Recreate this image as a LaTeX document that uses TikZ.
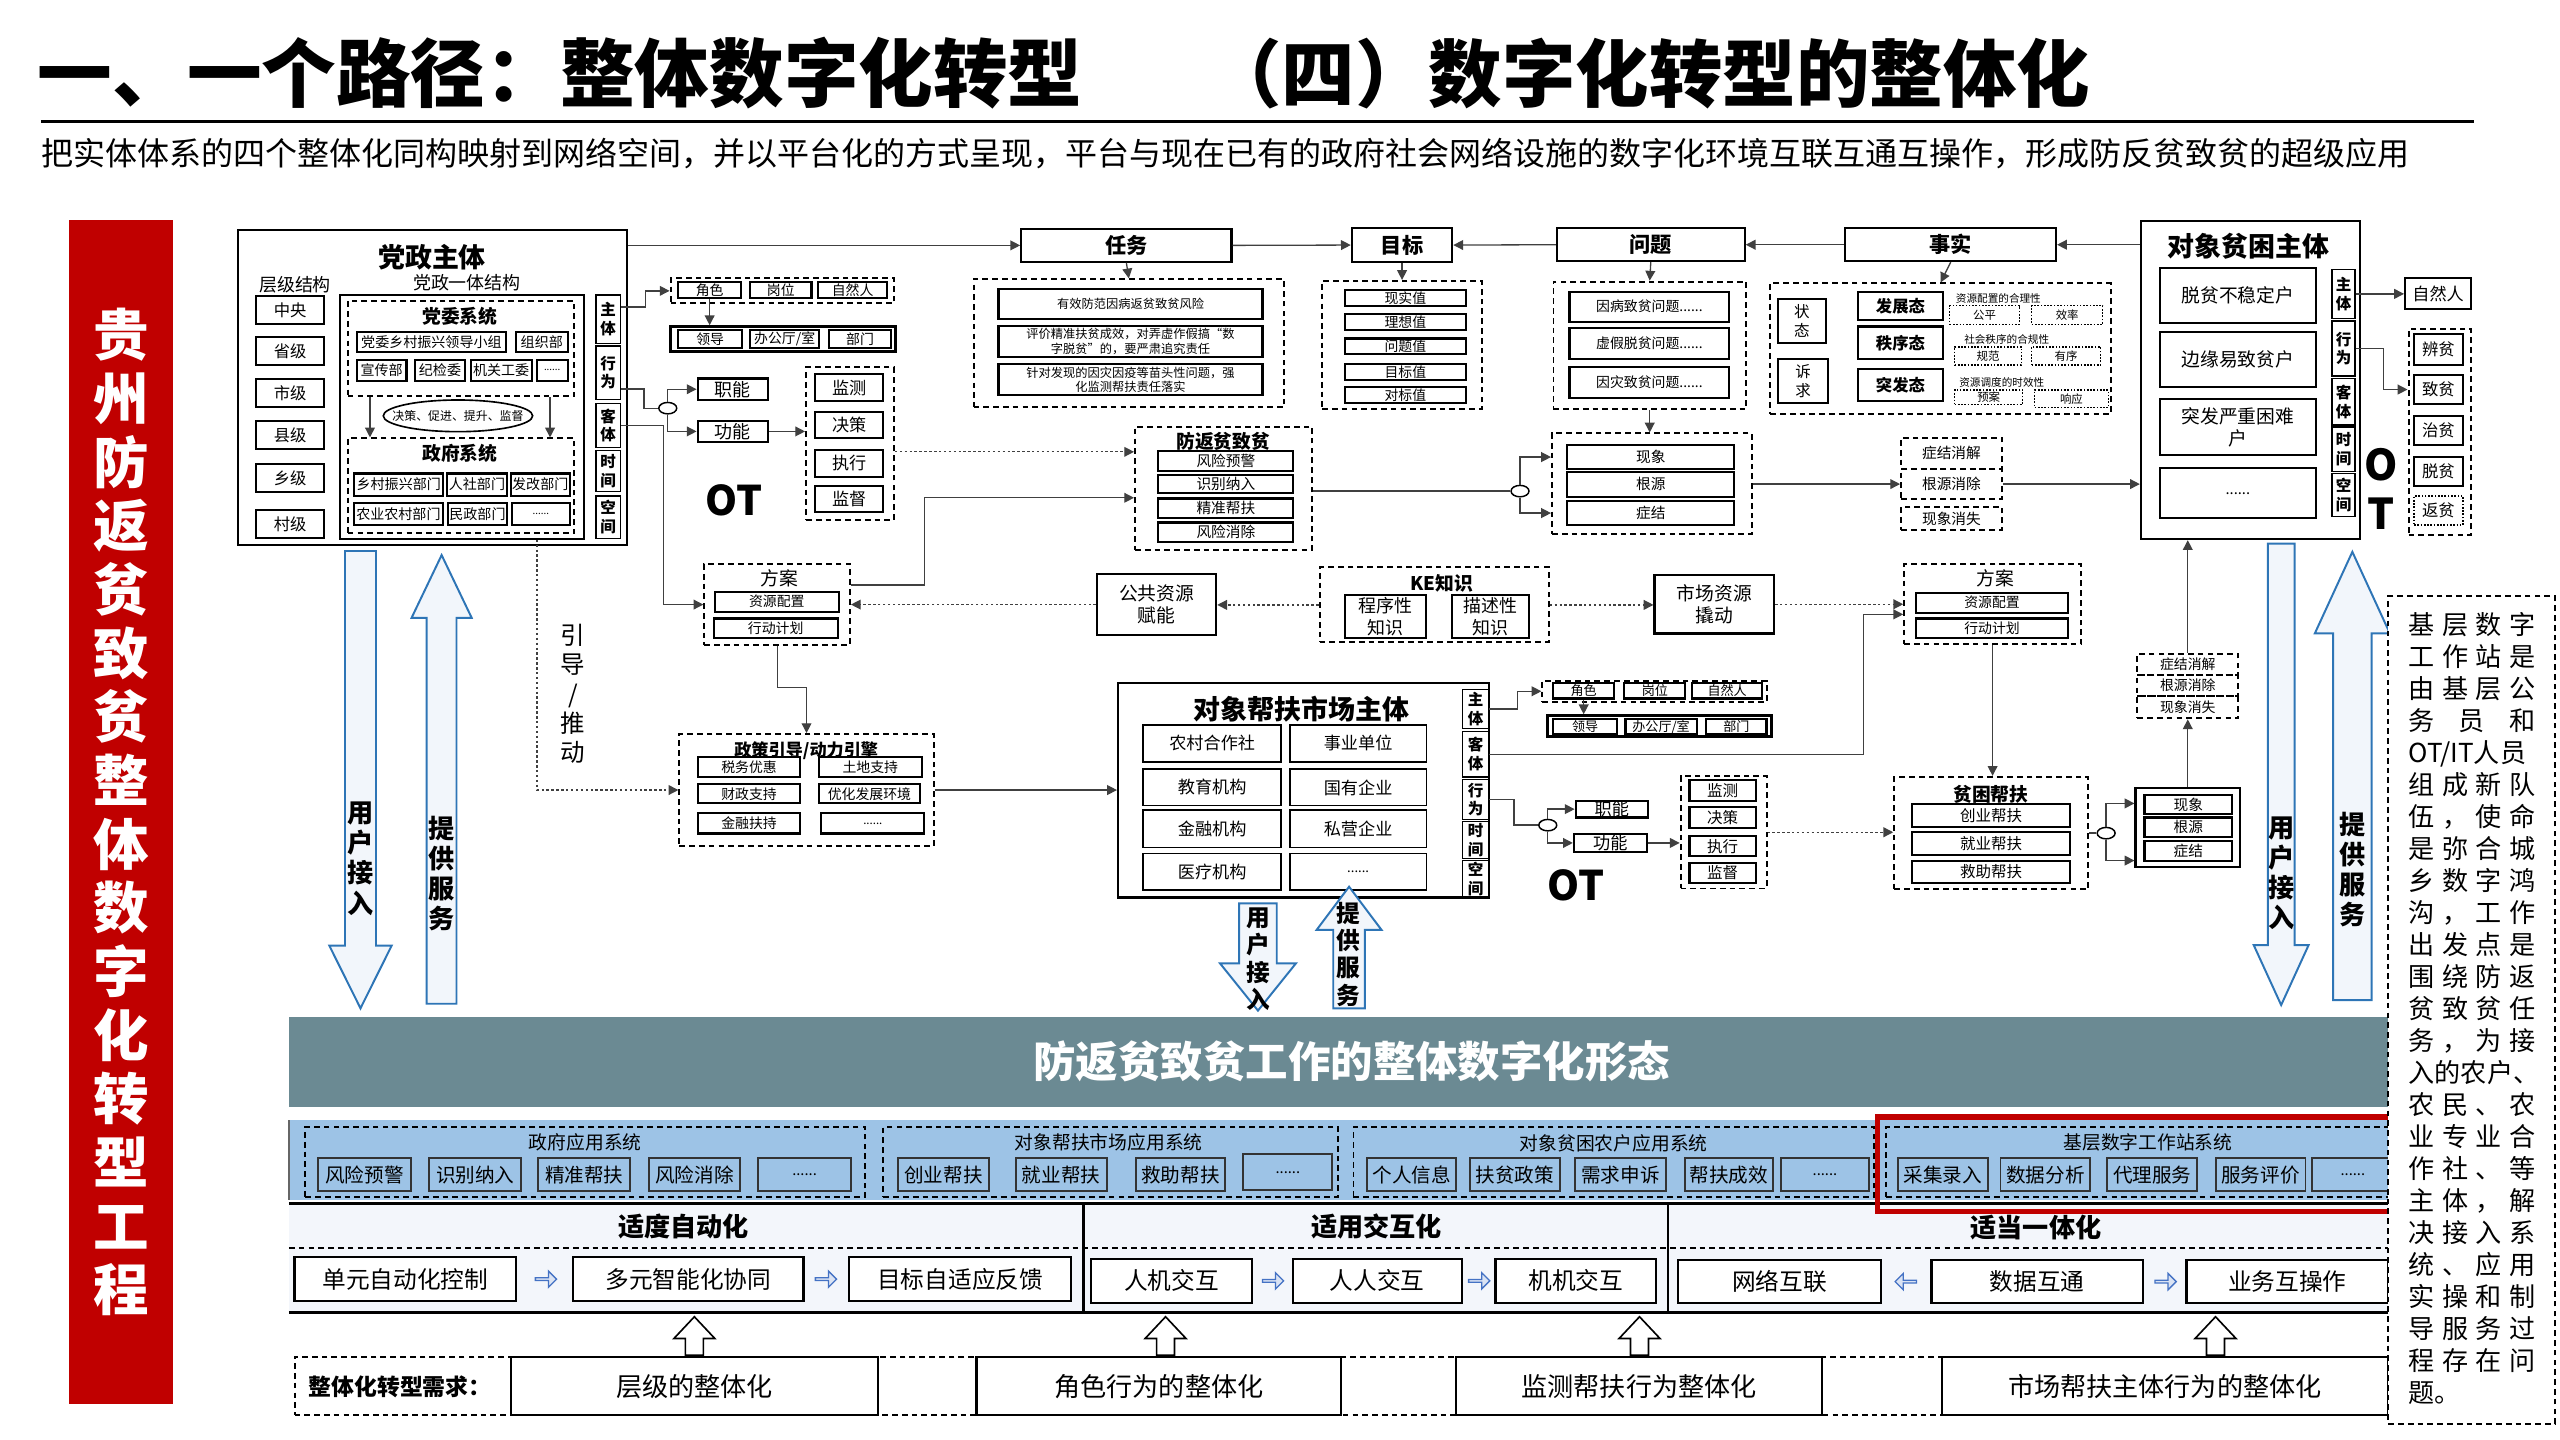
\documentclass[tikz,border=0pt]{standalone}
\usepackage{fontspec}
\setmainfont{Noto Sans CJK SC}
\usetikzlibrary{arrows.meta,shapes.geometric,shapes.arrows}
\definecolor{myred}{HTML}{C00000}
\definecolor{bannergray}{HTML}{6B8A93}
\definecolor{bandblue}{HTML}{9DC3E6}
\definecolor{secfill}{HTML}{F3F6FB}
\definecolor{arrblue}{HTML}{2E75B6}
\definecolor{arrfill}{HTML}{F2F6FB}
\definecolor{linegray}{HTML}{404040}
\definecolor{smallblue}{HTML}{4472C4}
\definecolor{smallfill}{HTML}{DAE3F3}
\newcommand\bx[7][]{\node[#1,minimum width={#5-#3},minimum height={#6-#4}] (#2) at ({(#3+#5)/2},{(#4+#6)/2}) {#7};}
\newcommand\jl[1]{\makebox[77.6pt][s]{#1}}
\newcommand\jlL[1]{\makebox[77.6pt][l]{#1}}
\newcommand\uparr[1]{\filldraw[fill=white,draw=black,line width=1pt] (#1-5.5,830) -- (#1-5.5,819.8) -- (#1-12.5,819.8) -- (#1,806.5) -- (#1+12.5,819.8) -- (#1+5.5,819.8) -- (#1+5.5,830) -- cycle;}
\tikzset{
  fs/.style={font=\fontsize{#1}{\fpeval{1.2*#1}}\selectfont},
  fb/.style={font=\fontsize{#1}{\fpeval{1.2*#1}}\selectfont\bfseries},
  sb/.style={draw=black,line width=0.9pt,inner sep=0pt,align=center,fill=white},
  tb/.style={draw=black,line width=1.3pt,inner sep=0pt,align=center,fill=white},
  bb/.style={draw=black!80,line width=1.2pt,inner sep=0pt,align=center},
  db/.style={draw=black,line width=1.2pt,dash pattern=on 3.5pt off 2.5pt,inner sep=0pt,align=center},
  dtb/.style={draw=black,line width=0.9pt,dash pattern=on 1pt off 1pt,inner sep=0pt,align=center,fill=white},
  lbl/.style={inner sep=0pt,align=center},
  arr/.style={draw=linegray,line width=0.8pt,-{Triangle[length=6pt,width=6pt]}},
  darr/.style={arr,dash pattern=on 1.5pt off 1.5pt},
  ln/.style={draw=linegray,line width=0.8pt},
  circ/.style={draw=black,line width=0.9pt,ellipse,minimum width=11pt,minimum height=7pt,inner sep=0pt,fill=white},
  bigarr/.style={draw=arrblue,fill=arrfill,line width=1.2pt},
  vtxt/.style={inner sep=0pt,align=center,font=\fontsize{16}{18.4}\selectfont\bfseries},
  vsm/.style={inner sep=0pt,align=center,font=\fontsize{14.5}{16.7}\selectfont\bfseries},
  smarr/.style={single arrow,draw=smallblue,fill=smallfill,line width=0.8pt,minimum height=13pt,minimum width=10pt,single arrow head extend=2pt,inner sep=0pt},
}
\begin{document}
\begin{tikzpicture}[x=1pt,y=-1pt]
\useasboundingbox (0,0) rectangle (1568,882);
% ---------- title ----------
\node[anchor=west,inner sep=0pt,font=\fontsize{45.7}{50}\selectfont\bfseries] (title1) at (23,45) {一、一个路径：整体数字化转型};
\node[anchor=west,inner sep=0pt,font=\fontsize{45}{50}\selectfont\bfseries] (title2) at (740,45) {（四）数字化转型的整体化};
\draw[line width=2pt] (25,74.5) -- (1515,74.5);
\node[anchor=west,inner sep=0pt,fs=19.6] (subtitle) at (25,94) {把实体体系的四个整体化同构映射到网络空间，并以平台化的方式呈现，平台与现在已有的政府社会网络设施的数字化环境互联互通互操作，形成防反贫致贫的超级应用};
% ---------- red bar ----------
\node[fill=myred,minimum width=64,minimum height=725,inner sep=0pt,text=white,align=center,font=\fontsize{34}{39}\selectfont\bfseries] (redbar) at (74,497.5) {贵\\州\\防\\返\\贫\\致\\贫\\整\\体\\数\\字\\化\\转\\型\\工\\程};
% ---------- bottom backgrounds ----------
\fill[bannergray] (177,623) rectangle (1468,678);
\node[lbl,fb=26,text=white] (banner) at (828,650) {防返贫致贫工作的整体数字化形态};
\fill[bandblue] (177,686) rectangle (1468,735);
\draw[line width=1.5pt,black!60] (177,686) -- (177,735);
\fill[secfill] (177,737) rectangle (1462.6,804);
\draw[line width=2pt] (177,737) -- (1462.6,737);
\draw[line width=2pt] (177,804) -- (1462.6,804);
\draw[line width=1.5pt] (663.6,737) -- (663.6,804);
\draw[line width=1.5pt] (1021.5,737) -- (1021.5,804);
\draw[db] (177,764.6) -- (1462.6,764.6);
% ---------- 党政主体 ----------
\bx[draw,line width=1.3pt,inner sep=0pt,fill=white]{dz}{146}{141}{384}{334}{}
\node[lbl,fb=16.5] (dzt) at (264.6,157.5) {党政主体};
\node[lbl,fs=11] (cjjg) at (180.7,174.6) {层级结构};
\node[lbl,fs=11] (dzytl) at (286,173) {党政一体结构};
\bx[tb,fs=10]{lv1}{157}{181.5}{198.5}{198.5}{中央}
\bx[tb,fs=10]{lv2}{157}{206.5}{198.5}{223.5}{省级}
\bx[tb,fs=10]{lv3}{157}{232.2}{198.5}{249.2}{市级}
\bx[tb,fs=10]{lv4}{157}{257.9}{198.5}{274.9}{县级}
\bx[tb,fs=10]{lv5}{157}{284.4}{198.5}{301.4}{乡级}
\bx[tb,fs=10]{lv6}{157}{312.5}{198.5}{329.5}{村级}
\bx[draw,line width=1.2pt,inner sep=0pt]{dzyt}{208.3}{180.7}{357.7}{330}{}
\bx[db]{dw}{213}{184.4}{351.8}{242.6}{}
\node[lbl,fb=11.5] (dwt) at (281.7,193.5) {党委系统};
\bx[tb,fs=8.6]{dw1}{218.5}{203.5}{310}{215.8}{党委乡村振兴领导小组}
\bx[tb,fs=8.6]{dw2}{316}{203.5}{347.7}{215.8}{组织部}
\bx[tb,fs=8.6]{dw3}{218.5}{220.5}{249}{233.2}{宣传部}
\bx[tb,fs=8.6]{dw4}{254}{220.5}{285}{233.2}{纪检委}
\bx[tb,fs=8.6]{dw5}{288.3}{220.5}{325.6}{233.2}{机关工委}
\bx[tb,fs=6]{dw6}{328.7}{220.5}{347.7}{233.2}{......}
\node[draw,ellipse,line width=1pt,minimum width=91.5,minimum height=19.4,inner sep=0pt] (jcel) at (280.5,254.7) {};
\node[lbl,fs=7.3] (jcelt) at (jcel) {决策、促进、提升、监督};
\bx[db]{zf}{213}{268.5}{351.8}{326.6}{}
\node[lbl,fb=11.5] (zft) at (281.7,277.5) {政府系统};
\bx[tb,fs=8.6]{zf1}{217}{290}{271.5}{303.6}{乡村振兴部门}
\bx[tb,fs=8.6]{zf2}{274}{290}{310.3}{303.6}{人社部门}
\bx[tb,fs=8.6]{zf3}{312.8}{290}{349}{303.6}{发改部门}
\bx[tb,fs=8.6]{zf4}{216.6}{308.3}{271.5}{321.6}{农业农村部门}
\bx[tb,fs=8.6]{zf5}{274.6}{308.3}{310.3}{321.6}{民政部门}
\bx[tb,fs=6]{zf6}{313.6}{308.3}{349}{321.6}{......}
\draw[arr] (226.6,0 |- dw.south) -- (226.6,0 |- zf.north);
\draw[arr] (336.9,0 |- dw.south) -- (336.9,0 |- zf.north);
\bx[sb,fb=9.5]{zt1}{365}{180.7}{380}{210.3}{主\\体}
\bx[sb,fb=9.5]{zt2}{365}{212}{380}{244.6}{行\\为}
\bx[sb,fb=9.5]{zt3}{365}{247}{380}{274}{客\\体}
\bx[sb,fb=9.5]{zt4}{365}{276}{380}{301}{时\\间}
\bx[sb,fb=9.5]{zt5}{365}{303.8}{380}{329.7}{空\\间}
% ---------- top-left OT ----------
\bx[db]{js1}{410.7}{170.5}{547.5}{185.8}{}
\bx[tb,fs=8.5]{js1a}{415.4}{172.5}{453.9}{182.7}{角色}
\bx[tb,fs=8.5]{js1b}{459.5}{172.5}{497}{182.7}{岗位}
\bx[tb,fs=8.5]{js1c}{501}{172.5}{543.5}{182.7}{自然人}
\bx[draw,line width=1.8pt,inner sep=0pt,fill=white]{ld1}{410.7}{200.1}{548.2}{215.4}{}
\bx[tb,fs=8.5]{ld1a}{415.4}{202.1}{454.5}{213.4}{领导}
\bx[tb,fs=8.5]{ld1b}{459.5}{202.1}{501.7}{213.4}{办公厅/室}
\bx[tb,fs=8.5]{ld1c}{507.7}{202.1}{545.8}{213.4}{部门}
\node[circ] (c1) at (409,250) {};
\bx[tb,fs=11]{zn1}{427.3}{231.8}{470.5}{245}{职能}
\bx[tb,fs=11]{gn1}{427.3}{257.9}{470.5}{270.6}{功能}
\bx[db]{jc1}{493.7}{225}{547.5}{318.5}{}
\bx[tb,fs=10.5]{jc1a}{499.4}{229.3}{540.9}{245.4}{监测}
\bx[tb,fs=10.5]{jc1b}{499.4}{252.2}{540.9}{268.5}{决策}
\bx[tb,fs=10.5]{jc1c}{499.4}{275.7}{540.9}{292}{执行}
\bx[tb,fs=10.5]{jc1d}{499.4}{297.5}{540.9}{313.4}{监督}
\node[lbl,fb=25] (ot1) at (449.6,306.3) {OT};
% ---------- top row ----------
\bx[tb,fb=13]{rw}{625.5}{140.3}{754.3}{160.3}{任务}
\bx[tb,fb=13]{mb}{828}{139.9}{889.5}{160.3}{目标}
\bx[tb,fb=13]{wt}{953.6}{139.9}{1068.6}{159.9}{问题}
\bx[tb,fb=13]{ss}{1130.3}{139.9}{1259.3}{159.9}{事实}
\bx[db]{rwd}{596.3}{171.1}{786.5}{249.5}{}
\bx[tb,fs=7.5]{rwd1}{611.6}{177}{773.3}{195.6}{有效防范因病返贫致贫风险}
\bx[tb,fs=7.5]{rwd2}{611.6}{199.7}{773.3}{218.5}{评价精准扶贫成效，对弄虚作假搞“数\\字脱贫”的，要严肃追究责任}
\bx[tb,fs=7.5]{rwd3}{611.6}{223.2}{773.3}{242}{针对发现的因灾因疫等苗头性问题，强\\化监测帮扶责任落实}
\bx[db]{mbd}{809.8}{172.1}{907.7}{250.5}{}
\bx[tb,fs=8.5]{mbd1}{823.7}{177.6}{897.8}{187.4}{现实值}
\bx[tb,fs=8.5]{mbd2}{823.7}{192.3}{897.8}{202.1}{理想值}
\bx[tb,fs=8.5]{mbd3}{823.7}{207.3}{897.8}{217}{问题值}
\bx[tb,fs=8.5]{mbd4}{823.7}{223}{897.8}{232.8}{目标值}
\bx[tb,fs=8.5]{mbd5}{823.7}{236.9}{897.8}{246.7}{对标值}
\bx[db]{wtd}{951.5}{172.5}{1069.4}{250.5}{}
\bx[tb,fs=8.5]{wtd1}{961.3}{178.7}{1059.2}{197}{因病致贫问题......}
\bx[tb,fs=8.5]{wtd2}{961.3}{201.1}{1059.2}{219.9}{虚假脱贫问题......}
\bx[tb,fs=8.5]{wtd3}{961.3}{224.6}{1059.2}{243.6}{因灾致贫问题......}
\bx[db]{ssd}{1084.3}{173.6}{1293}{253.6}{}
\bx[tb,fs=9.5]{ssd1}{1089}{183.2}{1118.4}{210.3}{状\\态}
\bx[tb,fs=9.5]{ssd2}{1089}{219.9}{1119.7}{247.1}{诉\\求}
\bx[tb,fb=10]{ssf1}{1138}{179}{1190}{196}{发展态}
\bx[tb,fb=10]{ssf2}{1138}{200}{1190}{220}{秩序态}
\bx[tb,fb=10]{ssf3}{1138}{226}{1190}{245.6}{突发态}
\node[lbl,fs=6.5] (ssl1) at (1224,182.8) {资源配置的合理性};
\bx[dtb,fs=7]{ssg1}{1194.2}{187.2}{1236.8}{198.7}{公平}
\bx[dtb,fs=7]{ssg2}{1244.4}{187.2}{1287.9}{198.7}{效率}
\node[lbl,fs=6.5] (ssl2) at (1229.1,207.7) {社会秩序的合规性};
\bx[dtb,fs=7]{ssg3}{1197.2}{212.4}{1238.1}{223.6}{规范}
\bx[dtb,fs=7]{ssg4}{1244.4}{212.4}{1286.6}{223.6}{有序}
\node[lbl,fs=6.5] (ssl3) at (1226.1,234.2) {资源调度的时效性};
\bx[dtb,fs=7]{ssg5}{1197.2}{238.9}{1238.9}{247.7}{预案}
\bx[dtb,fs=7]{ssg6}{1246.2}{238.9}{1291.3}{249.7}{响应}
% ---------- 对象贫困主体 ----------
\bx[draw,line width=1.3pt,inner sep=0pt,fill=white]{pk}{1311.3}{135.4}{1445.4}{330.2}{}
\node[lbl,fb=16.5] (pkt) at (1377,151.1) {对象贫困主体};
\bx[tb,fs=11.5]{pk1}{1322.8}{164}{1418.6}{198.1}{脱贫不稳定户}
\bx[tb,fs=11.5]{pk2}{1322.8}{203.2}{1418.6}{236.9}{边缘易致贫户}
\bx[tb,fs=11.5]{pk3}{1322.8}{244.6}{1418.6}{278.7}{突发严重困难\\户}
\bx[tb,fs=9]{pk4}{1322.8}{286.9}{1418.6}{317.5}{......}
\bx[sb,fb=9.5]{pz1}{1428.4}{165}{1442.4}{195}{主\\体}
\bx[sb,fb=9.5]{pz2}{1428.4}{196.6}{1442.4}{230.3}{行\\为}
\bx[sb,fb=9.5]{pz3}{1428.4}{231.8}{1442.4}{260.3}{客\\体}
\bx[sb,fb=9.5]{pz4}{1428.4}{261.4}{1442.4}{288.9}{时\\间}
\bx[sb,fb=9.5]{pz5}{1428.4}{290}{1442.4}{316.5}{空\\间}
\bx[tb,fs=10.5]{zr}{1473.1}{170.5}{1513.6}{189.3}{自然人}
\bx[db]{bp}{1475.2}{201.7}{1513.6}{327.7}{}
\bx[tb,fs=10]{bp1}{1478.6}{204.8}{1508.5}{223.6}{辨贫}
\bx[tb,fs=10]{bp2}{1478.6}{229.7}{1508.5}{247.5}{致贫}
\bx[tb,fs=10]{bp3}{1478.6}{254.8}{1508.5}{272.6}{治贫}
\bx[tb,fs=10]{bp4}{1478.6}{279.7}{1508.5}{297.5}{脱贫}
\bx[dtb,fs=10]{bp5}{1478.6}{303.8}{1508.5}{321.6}{返贫}
\node[lbl,font=\fontsize{26}{29.7}\selectfont\bfseries] (otr) at (1458.2,299.6) {O\\T};
\draw[arr] (pz1.east) -- (pz1.east -| zr.west);
\draw[arr] (pz2.east) -- ++(17,0) |- (bp.west |- bp2.center);
% ---------- 防返贫致贫 ----------
\bx[db]{ff}{695.2}{261.4}{803.8}{337}{}
\node[lbl,fb=11.5] (fft) at (749.3,270.2) {防返贫致贫};
\bx[tb,fs=9]{ff1}{709.5}{276.3}{792.2}{288.5}{风险预警}
\bx[tb,fs=9]{ff2}{709.5}{291}{792.2}{302.2}{识别纳入}
\bx[tb,fs=9]{ff3}{709.5}{305.3}{792.2}{317.1}{精准帮扶}
\bx[tb,fs=9]{ff4}{709.5}{320}{792.2}{331.8}{风险消除}
\node[circ] (c2) at (931,300.8) {};
\bx[db]{xg}{950.6}{265.5}{1072.8}{327.3}{}
\bx[tb,fs=9]{xg1}{960}{272.6}{1062.2}{287.3}{现象}
\bx[tb,fs=9]{xg2}{960}{289}{1062.2}{304.2}{根源}
\bx[tb,fs=9]{xg3}{960}{306.9}{1062.2}{321.6}{症结}
\bx[db,fs=9]{sj1}{1164.4}{268.1}{1226.1}{287.3}{症结消解}
\bx[db,fs=9]{sj2}{1164.4}{287.3}{1226.1}{305.7}{根源消除}
\bx[db,fs=9]{sj3}{1164.4}{310.4}{1226.1}{324.7}{现象消失}
% ---------- 方案 / KE ----------
\bx[db]{faL}{431.4}{345.5}{520.6}{395.1}{}
\node[lbl,fs=11.5] (faLt) at (477.4,354.3) {方案};
\bx[tb,fs=8.5]{faL1}{437.9}{362.4}{513.7}{374.7}{资源配置}
\bx[tb,fs=8.5]{faL2}{437.2}{378.8}{513}{391}{行动计划}
\bx[tb,fs=11.5]{gg}{671.9}{351.6}{744.9}{389}{公共资源\\赋能}
\bx[db]{ke}{808.3}{347.5}{948.6}{393.5}{}
\node[lbl,fb=11.5] (ket) at (883,357.3) {KE知识};
\bx[tb,fs=11]{ke1}{823.6}{364.4}{873.4}{391}{程序性\\知识}
\bx[tb,fs=11]{ke2}{889.2}{364.4}{936.3}{391}{描述性\\知识}
\bx[tb,fs=11.5]{sc}{1013.4}{352.2}{1086.6}{388}{市场资源\\撬动}
\bx[db]{faR}{1166.3}{345.5}{1274.6}{394.7}{}
\node[lbl,fs=11.5] (faRt) at (1222,354.3) {方案};
\bx[tb,fs=8.5]{faR1}{1173.6}{363}{1266.6}{375.3}{资源配置}
\bx[tb,fs=8.5]{faR2}{1173.6}{378.8}{1266.6}{391}{行动计划}
% ---------- 政策引导 ----------
\bx[db]{zc}{416.1}{449.6}{571.9}{518.2}{}
\node[lbl,fb=10.5] (zct) at (493.8,459.5) {政策引导/动力引擎};
\bx[tb,fs=8.5]{zc1}{427.6}{463.9}{490}{475.8}{税务优惠}
\bx[tb,fs=8.5]{zc2}{501.5}{463.9}{564.6}{475.8}{土地支持}
\bx[tb,fs=8.5]{zc3}{427.6}{480.3}{490}{492.1}{财政支持}
\bx[tb,fs=8.5]{zc4}{501.5}{480.3}{563.5}{492.1}{优化发展环境}
\bx[tb,fs=8.5]{zc5}{427.6}{498.2}{490}{510.5}{金融扶持}
\bx[tb,fs=7]{zc6}{503}{498.2}{566.2}{510.5}{......}
\node[lbl,font=\fontsize{15}{18}\selectfont] (yd) at (351,425) {引\\导\\/\\推\\动};
% ---------- 对象帮扶市场主体 ----------
\bx[draw,line width=1.3pt,inner sep=0pt,fill=white]{dx}{684.8}{418.6}{911.8}{549.7}{}
\node[lbl,fb=16.5] (dxt) at (797,434.5) {对象帮扶市场主体};
\bx[sb,fs=10.5]{dxa}{700.2}{444.1}{784.7}{466.6}{农村合作社}
\bx[sb,fs=10.5]{dxb}{790.1}{444.1}{873.6}{466.6}{事业单位}
\bx[sb,fs=10.5]{dxc}{700.2}{471.1}{784.7}{493.5}{教育机构}
\bx[sb,fs=10.5]{dxd}{790.1}{471.1}{873.6}{493.5}{国有企业}
\bx[sb,fs=10.5]{dxe}{700.2}{496.2}{784.7}{519.1}{金融机构}
\bx[sb,fs=10.5]{dxf}{790.1}{496.2}{873.6}{519.1}{私营企业}
\bx[sb,fs=10.5]{dxg}{700.2}{522.7}{784.7}{545.2}{医疗机构}
\bx[sb,fs=8]{dxh}{790.1}{522.7}{873.6}{545.2}{......}
\bx[sb,fb=9.5]{dk1}{895.8}{422.3}{911.8}{446.1}{主\\体}
\bx[sb,fb=9.5]{dk2}{895.8}{448.2}{911.8}{475.8}{客\\体}
\bx[sb,fb=9.5]{dk3}{895.8}{477.4}{911.8}{501.9}{行\\为}
\bx[sb,fb=9.5]{dk4}{895.8}{503.3}{911.8}{525.8}{时\\间}
\bx[sb,fb=9.5]{dk5}{895.8}{527.2}{911.8}{549.3}{空\\间}
\bx[db]{js2}{944.7}{417}{1082}{429.8}{}
\bx[tb,fs=8]{js2a}{951.3}{418.2}{988.7}{427.8}{角色}
\bx[tb,fs=8]{js2b}{994.9}{418.2}{1032.3}{427.8}{岗位}
\bx[tb,fs=8]{js2c}{1036.6}{418.2}{1079.1}{427.8}{自然人}
\bx[draw,line width=1.8pt,inner sep=0pt,fill=white]{ld2}{947.6}{438.4}{1085}{451.3}{}
\bx[tb,fs=8]{ld2a}{951.3}{440.6}{990.5}{449.6}{领导}
\bx[tb,fs=8]{ld2b}{995.6}{440.6}{1039.2}{449.6}{办公厅/室}
\bx[tb,fs=8]{ld2c}{1045}{440.6}{1082}{449.6}{部门}
\node[circ] (c3) at (948,505.4) {};
\bx[tb,fs=10.5]{zn2}{965.1}{490.5}{1009.4}{500.7}{职能}
\bx[tb,fs=10.5]{gn2}{964}{510.9}{1008.7}{521.7}{功能}
\bx[db]{jc2}{1029.4}{475.3}{1082}{544.2}{}
\bx[tb,fs=9.5]{jc2a}{1034.8}{477.8}{1075.5}{490.5}{监测}
\bx[tb,fs=9.5]{jc2b}{1034.8}{494.5}{1075.5}{507.4}{决策}
\bx[tb,fs=9.5]{jc2c}{1034.8}{512.1}{1075.5}{524.4}{执行}
\bx[tb,fs=9.5]{jc2d}{1034.8}{528.4}{1075.5}{540.7}{监督}
\node[lbl,fb=25] (ot2) at (965.1,542.1) {OT};
\bx[db]{pkbf}{1160.2}{475.8}{1279}{544.8}{}
\node[lbl,fb=11.5] (pkbft) at (1219.4,486.3) {贫困帮扶};
\bx[tb,fs=9.5]{pkbf1}{1171.1}{492.5}{1268.1}{506.8}{创业帮扶}
\bx[tb,fs=9.5]{pkbf2}{1171.1}{509.5}{1268.1}{523.7}{就业帮扶}
\bx[tb,fs=9.5]{pkbf3}{1171.1}{527.2}{1268.1}{541.1}{救助帮扶}
\node[circ] (c4) at (1290,510.3) {};
\bx[draw,line width=1.3pt,inner sep=0pt,fill=white]{xgR}{1308}{482.9}{1372}{531.3}{}
\bx[tb,fs=9]{xgR1}{1313.5}{487}{1367.3}{498.6}{现象}
\bx[tb,fs=9]{xgR2}{1313.5}{500.7}{1367.3}{512.5}{根源}
\bx[tb,fs=9]{xgR3}{1313.5}{515}{1367.3}{527.2}{症结}
\bx[db,fs=8.5]{sjRa}{1309.1}{400.6}{1370.9}{413.5}{症结消解}
\bx[db,fs=8.5]{sjRb}{1309.1}{413.5}{1370.9}{426.3}{根源消除}
\bx[db,fs=8.5]{sjRc}{1309.1}{426.3}{1370.9}{440}{现象消失}
% ---------- connectors ----------
\draw[arr] (dz.east |- rw.west) -- (rw.west);
\draw[arr] (rw.east) -- (mb.west);
\draw[arr] (wt.west) -- (mb.east);
\draw[arr] (ss.west) -- (wt.east);
\draw[arr] (pk.west |- ss.east) -- (ss.east);
\draw[arr] (rw.south) -- (rwd.north);
\draw[arr] (mb.south) -- (mbd.north);
\draw[arr] (wt.south) -- (wtd.north);
\draw[arr] (ss.south) -- (ssd.north);
\draw[arr] ([yshift=7.5pt]zt1.east) -- ++(15,0) |- (js1.west);
\draw[arr] (js1a.south) -- (js1a.south |- ld1.north);
\draw[ln] ([yshift=-10pt]zt2.east) -- ++(14,0) |- (c1.west);
\draw[arr] (c1.north) |- (zn1.west);
\draw[arr] (c1.south) |- (gn1.west);
\draw[arr] (gn1.east) -- (gn1.east -| jc1.west);
\draw[darr] ([yshift=-5pt]jc1.east) -- ([yshift=-5pt]jc1.east -| ff.west);
\draw[arr] (zt3.east) -- ++(26,0) |- (faL.west);
\draw[ln] (ff.east |- c2.west) -- (c2.west);
\draw[arr] (c2.north) |- (xg.west |- xg1.center);
\draw[arr] (c2.south) |- (xg.west |- xg3.center);
\draw[arr] (wtd.south) -- (wtd.south |- xg.north);
\draw[arr] (xg.east |- sj2.west) -- (sj2.west);
\draw[arr] (sj2.east) -- (sj2.east -| pk.west);
\draw[arr] ([yshift=12pt]faL.east) -- ++(45,0) |- ([yshift=-5.7pt]ff.west);
\draw[arr] (faL.south) -- ++(0,25.5) -| (zc.north);
\draw[darr] (ke.west) -- (ke.west -| gg.east);
\draw[darr] (gg.west) -- (gg.west -| faL.east);
\draw[darr] (ke.east) -- (ke.east -| sc.west);
\draw[darr] (sc.east) -- (sc.east -| faR.west);
\draw[darr] ([xshift=46pt]dzyt.south) |- (zc.west);
\draw[arr] (zc.east) -- (zc.east -| dx.west);
\draw[arr] (dk1.east) -- ++(17,0) |- (js2.west);
\draw[arr] (js2a.south) -- (js2a.south |- ld2.north);
\draw[ln] (dk3.east) -- ++(15,0) |- (c3.west);
\draw[arr] (c3.north) |- (zn2.west);
\draw[arr] (c3.south) |- (gn2.west);
\draw[arr] (gn2.east) -- (gn2.east -| jc2.west);
\draw[darr] (jc2.east) -- (jc2.east -| pkbf.west);
\draw[arr] (dk2.east) -- ++(229,0) |- ([yshift=-6.2pt]faR.west);
\draw[arr] (faR.south) -- (faR.south |- pkbf.north);
\draw[ln] (pkbf.east) -- (c4.west);
\draw[arr] (c4.north) |- ([yshift=15pt]xgR.west);
\draw[arr] (c4.south) |- ([yshift=-20pt]xgR.west);
\draw[arr] (xgR.north) -- (xgR.north |- sjRc.south);
\draw[arr] (sjRa.north) -- (sjRa.north |- pk.south);
% ---------- big blue arrows ----------
\filldraw[bigarr] (211.3,337.5) -- (230.3,337.5) -- (230.3,579.2) -- (239.9,579.2) -- (220.8,617.6) -- (201.7,579.2) -- (211.3,579.2) -- cycle;
\node[vtxt] (yhL) at (221,526) {用\\户\\接\\入};
\filldraw[bigarr] (261.3,614.8) -- (261.3,378.4) -- (252.1,378.4) -- (270.5,340) -- (288.9,378.4) -- (279.6,378.4) -- (279.6,614.8) -- cycle;
\node[vtxt] (tgL) at (270.5,535) {提\\供\\服\\务};
\filldraw[bigarr] (1389,333) -- (1405.4,333) -- (1405.4,578.9) -- (1414,578.9) -- (1397.2,615.6) -- (1380.4,578.9) -- (1389,578.9) -- cycle;
\node[vtxt] (yhR) at (1397.2,535) {用\\户\\接\\入};
\filldraw[bigarr] (1429,612.6) -- (1429,388) -- (1417.8,388) -- (1440.8,338) -- (1463.8,388) -- (1452.6,388) -- (1452.6,612.6) -- cycle;
\node[vtxt] (tgR) at (1441,532.5) {提\\供\\服\\务};
\filldraw[bigarr] (759,553.3) -- (782,553.3) -- (782,590) -- (793.8,590) -- (770.5,619) -- (747.2,590) -- (759,590) -- cycle;
\node[vsm] (yhM) at (770.7,587.5) {用\\户\\接\\入};
\filldraw[bigarr] (816.6,617.6) -- (816.6,569.6) -- (806.4,569.6) -- (826.3,543.1) -- (846.2,569.6) -- (836,569.6) -- (836,617.6) -- cycle;
\node[vsm] (tgM) at (825.8,584.4) {提\\供\\服\\务};
% ---------- application band ----------
\bx[db]{g1}{187.1}{690.1}{530}{733}{}
\node[lbl,fs=11.5] (g1t) at (358.5,699.5) {政府应用系统};
\bx[bb,fs=12]{g1a}{194.7}{709.5}{251.7}{729.5}{风险预警}
\bx[bb,fs=12]{g1b}{262.8}{709.5}{319.3}{729.5}{识别纳入}
\bx[bb,fs=12]{g1c}{329.6}{709.5}{386.1}{729.5}{精准帮扶}
\bx[bb,fs=12]{g1d}{397.7}{709.5}{453}{729.5}{风险消除}
\bx[bb,fs=9]{g1e}{464.5}{709.5}{521.1}{729.5}{......}
\bx[db]{g2}{541.1}{690.1}{819.4}{733}{}
\node[lbl,fs=11.5] (g2t) at (679.1,699.5) {对象帮扶市场应用系统};
\bx[bb,fs=12]{g2a}{550}{709.5}{605.7}{729.5}{创业帮扶}
\bx[bb,fs=12]{g2b}{622.1}{709.5}{677.8}{729.5}{就业帮扶}
\bx[bb,fs=12]{g2c}{695.6}{709.5}{750.4}{729.5}{救助帮扶}
\bx[bb,fs=9]{g2d}{761.5}{707}{816.1}{729}{......}
\bx[db]{g3}{829}{690.1}{1147.8}{733}{}
\node[lbl,fs=11.5] (g3t) at (988.4,700) {对象贫困农户应用系统};
\bx[bb,fs=12]{g3a}{837.3}{709.5}{891.9}{729.5}{个人信息}
\bx[bb,fs=12]{g3b}{900.2}{709.5}{955.3}{729.5}{扶贫政策}
\bx[bb,fs=12]{g3c}{964.8}{709.5}{1020.3}{729.5}{需求申诉}
\bx[bb,fs=12]{g3d}{1031.9}{709.5}{1085.7}{729.5}{帮扶成效}
\bx[bb,fs=9]{g3e}{1090.7}{709.5}{1144.8}{729.5}{......}
\bx[db]{g4}{1155.3}{690.1}{1468}{733}{}
\node[lbl,fs=11.5] (g4t) at (1315.6,700) {基层数字工作站系统};
\bx[bb,fs=12]{g4a}{1162.3}{709.5}{1217.4}{729.5}{采集录入}
\bx[bb,fs=12]{g4b}{1225.3}{709.5}{1280.4}{729.5}{数据分析}
\bx[bb,fs=12]{g4c}{1290.7}{709.5}{1345.8}{729.5}{代理服务}
\bx[bb,fs=12]{g4d}{1357}{709.5}{1412.1}{729.5}{服务评价}
\bx[bb,fs=9]{g4e}{1416.2}{709.5}{1466}{729.5}{......}
\draw[myred,line width=3.5pt] (1150,684) rectangle (1468,742);
% ---------- sections ----------
\node[lbl,fb=16] (sec1) at (418.6,751) {适度自动化};
\node[lbl,fb=16] (sec2) at (843,751) {适用交互化};
\node[lbl,fb=16] (sec3) at (1247,752) {适当一体化};
\bx[tb,fs=14.5]{s1a}{180.4}{770}{316.2}{797}{单元自动化控制}
\bx[tb,fs=14.5]{s1b}{351}{770}{492.1}{797}{多元智能化协同}
\bx[tb,fs=14.5]{s1c}{520.2}{770}{656}{797}{目标自适应反馈}
\bx[tb,fs=14.5]{s2a}{668}{771}{766.9}{798}{人机交互}
\bx[tb,fs=14.5]{s2b}{791.8}{771}{895.2}{798}{人人交互}
\bx[tb,fs=14.5]{s2c}{916}{771}{1014.5}{798}{机机交互}
\bx[tb,fs=14.5]{s3a}{1027.8}{772}{1152}{798}{网络互联}
\bx[tb,fs=14.5]{s3b}{1183}{772}{1312.6}{798}{数据互通}
\bx[tb,fs=14.5]{s3c}{1339.2}{772}{1462.6}{798}{业务互操作}
\node[smarr] (sa1) at (334,783.5) {};
\node[smarr] (sa2) at (505.5,783.5) {};
\node[smarr] (sa3) at (779.3,784.5) {};
\node[smarr] (sa4) at (905.6,784.5) {};
\node[smarr,shape border rotate=180] (sa5) at (1167.7,785) {};
\node[smarr] (sa6) at (1326,785) {};
\uparr{425.3}
\uparr{713.9}
\uparr{1004.2}
\uparr{1357}
% ---------- demand row ----------
\bx[db]{xq}{180.4}{831}{1462.6}{866.7}{}
\node[lbl,fb=14] (xqt) at (245,849.4) {整体化转型需求：};
\bx[tb,fs=16]{xq1}{313.1}{831.4}{537.5}{866.7}{层级的整体化}
\bx[tb,fs=16]{xq2}{598.1}{831.4}{821.6}{866.7}{角色行为的整体化}
\bx[tb,fs=16]{xq3}{891.9}{831.4}{1116}{866.7}{监测帮扶行为整体化}
\bx[tb,fs=16]{xq4}{1189.2}{831.4}{1462.6}{866.7}{市场帮扶主体行为的整体化}
% ---------- right text box ----------
\bx[db,fill=white]{tbox}{1462.8}{365.3}{1565}{872}{}
\node[inner sep=0pt,align=left,font=\fontsize{16}{19.6}\selectfont] (tboxt) at (1514.1,617.5) {\jl{基\hfill 层\hfill 数\hfill 字}\\\jl{工\hfill 作\hfill 站\hfill 是}\\\jl{由\hfill 基\hfill 层\hfill 公}\\\jl{务\hfill 员\hfill 和}\\\jl{OT/IT人员}\\\jl{组\hfill 成\hfill 新\hfill 队}\\\jl{伍\hfill ，\hfill 使\hfill 命}\\\jl{是\hfill 弥\hfill 合\hfill 城}\\\jl{乡\hfill 数\hfill 字\hfill 鸿}\\\jl{沟\hfill ，\hfill 工\hfill 作}\\\jl{出\hfill 发\hfill 点\hfill 是}\\\jl{围\hfill 绕\hfill 防\hfill 返}\\\jl{贫\hfill 致\hfill 贫\hfill 任}\\\jl{务\hfill ，\hfill 为\hfill 接}\\\jlL{入的农户、}\\\jl{农\hfill 民\hfill 、\hfill 农}\\\jl{业\hfill 专\hfill 业\hfill 合}\\\jl{作\hfill 社\hfill 、\hfill 等}\\\jl{主\hfill 体\hfill ，\hfill 解}\\\jl{决\hfill 接\hfill 入\hfill 系}\\\jl{统\hfill 、\hfill 应\hfill 用}\\\jl{实\hfill 操\hfill 和\hfill 制}\\\jl{导\hfill 服\hfill 务\hfill 过}\\\jl{程\hfill 存\hfill 在\hfill 问}\\\jlL{题。}};
\end{tikzpicture}
\end{document}
